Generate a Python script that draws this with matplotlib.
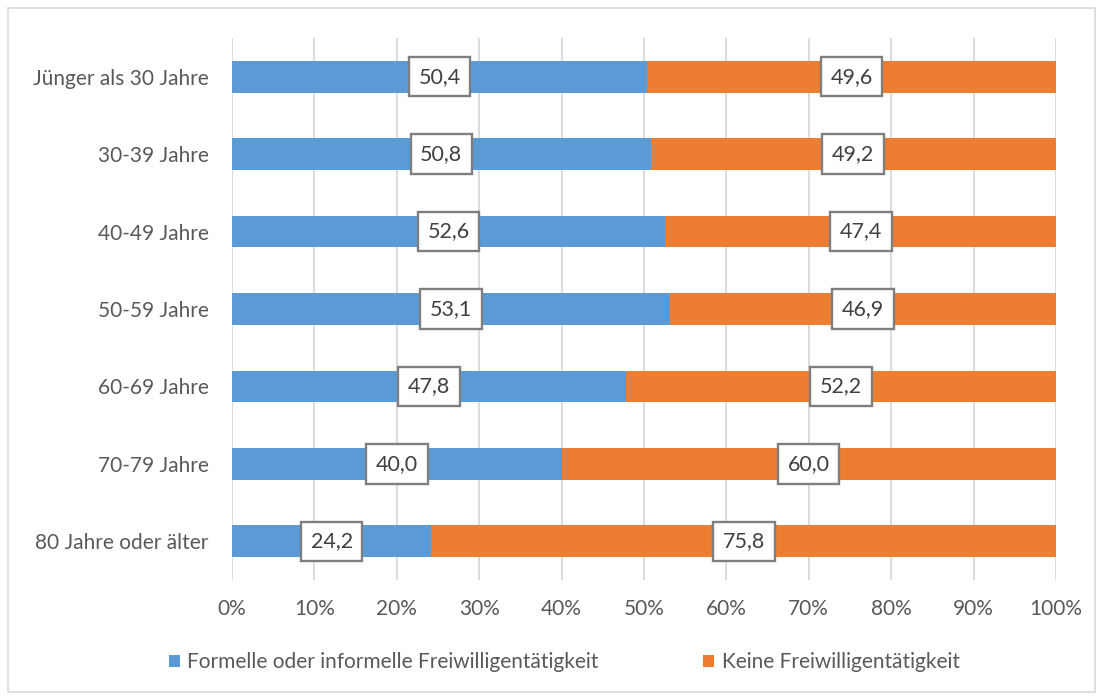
import numpy as np
import matplotlib.pyplot as plt
from matplotlib.patches import Rectangle

plt.rcParams['font.family'] = ['Lato', 'DejaVu Sans']

kategorien = ['Jünger als 30 Jahre', '30-39 Jahre', '40-49 Jahre', '50-59 Jahre',
              '60-69 Jahre', '70-79 Jahre', '80 Jahre oder älter']
freiwillig = [50.4, 50.8, 52.6, 53.1, 47.8, 40.0, 24.2]
keine = [49.6, 49.2, 47.4, 46.9, 52.2, 60.0, 75.8]
serien = ['Formelle oder informelle Freiwilligentätigkeit', 'Keine Freiwilligentätigkeit']
farben = ['#5b9bd5', '#ed7d31']

fig = plt.figure(figsize=(11.03, 7.0), dpi=100)
ax = fig.add_axes([232 / 1103, 1 - 580 / 700, 824 / 1103, 542 / 700])

# rahmen um die ganze grafik
fig.patches.append(Rectangle((8 / 1103, 8 / 700), 1087 / 1103, 684 / 700,
                             transform=fig.transFigure, fill=False,
                             edgecolor='#d9d9d9', linewidth=1.2))

y = np.arange(len(kategorien))
ax.barh(y, freiwillig, height=0.41, color=farben[0], label=serien[0], zorder=3)
ax.barh(y, keine, left=freiwillig, height=0.41, color=farben[1], label=serien[1], zorder=3)

box = dict(boxstyle='square,pad=0.45', facecolor='white', edgecolor='#7f7f7f', linewidth=1.7)
for i in range(len(kategorien)):
    ax.text(freiwillig[i] / 2, y[i], f'{freiwillig[i]:.1f}'.replace('.', ','),
            ha='center', va='center', fontsize=15.5, color='#404040', bbox=box, zorder=4)
    ax.text(freiwillig[i] + keine[i] / 2, y[i], f'{keine[i]:.1f}'.replace('.', ','),
            ha='center', va='center', fontsize=15.5, color='#404040', bbox=box, zorder=4)

ax.set_xlim(0, 100)
ax.set_ylim(len(kategorien) - 0.5, -0.5)
ax.set_xticks(np.arange(0, 101, 10))
ax.set_xticklabels([f'{v}%' for v in range(0, 101, 10)])
ax.set_yticks(y)
ax.set_yticklabels(kategorien)
ax.tick_params(axis='both', length=0, labelsize=15, labelcolor='#595959')
ax.tick_params(axis='x', pad=14)
ax.tick_params(axis='y', pad=17)
ax.grid(axis='x', color='#d9d9d9', linewidth=1.3, zorder=0)
for s in ax.spines.values():
    s.set_visible(False)

ax.legend(loc='center', bbox_to_anchor=(0.403, -0.152), ncol=2, frameon=False,
          fontsize=15, labelcolor='#595959', handlelength=0.55, handleheight=0.55,
          handletextpad=0.35, columnspacing=5.0)

plt.savefig('out.png', dpi=100)
